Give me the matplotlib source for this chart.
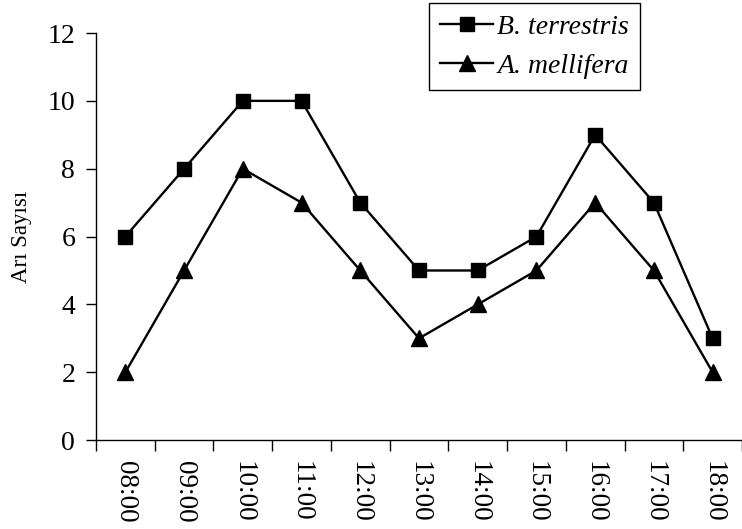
import matplotlib.pyplot as plt
import numpy as np

plt.rcParams['font.family'] = ['Liberation Serif', 'DejaVu Serif']

hours = ['08:00', '09:00', '10:00', '11:00', '12:00', '13:00',
         '14:00', '15:00', '16:00', '17:00', '18:00']
bombus = [6, 8, 10, 10, 7, 5, 5, 6, 9, 7, 3]
apis = [2, 5, 8, 7, 5, 3, 4, 5, 7, 5, 2]

fig = plt.figure(figsize=(7.42, 5.29), dpi=100)
ax = fig.add_axes([0.1294, 0.168, 0.8706, 0.7696])

x = np.arange(len(hours))
ax.plot(x, bombus, color='black', lw=1.7, marker='s', ms=10.5,
        label='B. terrestris')
ax.plot(x, apis, color='black', lw=1.7, marker='^', ms=11.5,
        label='A. mellifera')

ax.set_xlim(-0.5, len(hours) - 0.5)
ax.set_ylim(0, 12)
ax.set_yticks(range(0, 13, 2))
ax.set_xticks(x)
ax.set_xticklabels(hours, rotation=-90)
ax.set_xticks(np.arange(len(hours) + 1) - 0.5, minor=True)
ax.tick_params(axis='x', which='major', length=0, pad=15, labelsize=19.5)
ax.tick_params(axis='x', which='minor', length=8, width=1, direction='out')
ax.tick_params(axis='y', length=7, width=1, direction='out', labelsize=20, pad=8)

for side in ['top', 'right']:
    ax.spines[side].set_visible(False)
for side in ['left', 'bottom']:
    ax.spines[side].set_linewidth(1)

ax.set_ylabel('Arı Sayısı', fontsize=16.5, labelpad=11)

leg = ax.legend(loc='upper left', bbox_to_anchor=(429 / 742, 1 - 3 / 529),
                bbox_transform=fig.transFigure, fancybox=False, framealpha=1,
                edgecolor='black', prop={'style': 'italic', 'size': 20},
                handlelength=1.9, handletextpad=0.15, borderpad=0.4,
                labelspacing=0.5, borderaxespad=0)
leg.get_frame().set_linewidth(1)

fig.savefig('out.png', dpi=100)
